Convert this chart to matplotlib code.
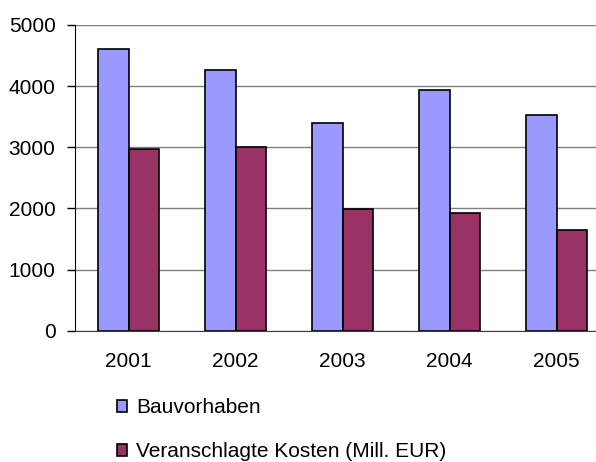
import numpy as np
import matplotlib
matplotlib.use("Agg")
import matplotlib.pyplot as plt

years = ["2001", "2002", "2003", "2004", "2005"]
bauvorhaben = [4610, 4260, 3400, 3930, 3530]
kosten = [2980, 3010, 1990, 1930, 1640]
y_ticks = [0, 1000, 2000, 3000, 4000, 5000]

plt.rcParams["font.family"] = ["Liberation Sans", "DejaVu Sans"]

W, H = 596, 462
fig = plt.figure(figsize=(W / 100, H / 100), dpi=100)
# plot area runs past the right edge of the figure, like the original
left, right, bottom, top = 75, 610, 330.7, 25
ax = fig.add_axes([left / W, 1 - bottom / H, (right - left) / W, (bottom - top) / H])

x = np.arange(len(years))
w = 0.285
ax.bar(x - w / 2, bauvorhaben, w, color="#9999FF", edgecolor="black", linewidth=1.2,
       label="Bauvorhaben", zorder=3)
ax.bar(x + w / 2, kosten, w, color="#993366", edgecolor="black", linewidth=1.2,
       label="Veranschlagte Kosten (Mill. EUR)", zorder=3)

ax.set_xlim(-0.5, len(years) - 0.5)
ax.set_ylim(0, 5000)
ax.set_yticks(y_ticks)
ax.set_xticks(x)
ax.set_xticklabels(years)
ax.yaxis.grid(True, color="#808080", linewidth=1)
ax.set_axisbelow(True)

for s in ["top", "right"]:
    ax.spines[s].set_visible(False)
ax.spines["left"].set_color("black")
ax.spines["bottom"].set_color("#404040")
ax.tick_params(axis="y", length=6, width=1, color="black", labelsize=15, pad=8)
ax.tick_params(axis="x", length=0, labelsize=15, pad=15)

fig.legend(loc="upper left", bbox_to_anchor=(109 / W, 1 - 390 / H), frameon=False,
           fontsize=15, handlelength=0.45, handleheight=0.45, handletextpad=0.45,
           labelspacing=1.2, borderaxespad=0)

fig.savefig("out.png", dpi=100)
